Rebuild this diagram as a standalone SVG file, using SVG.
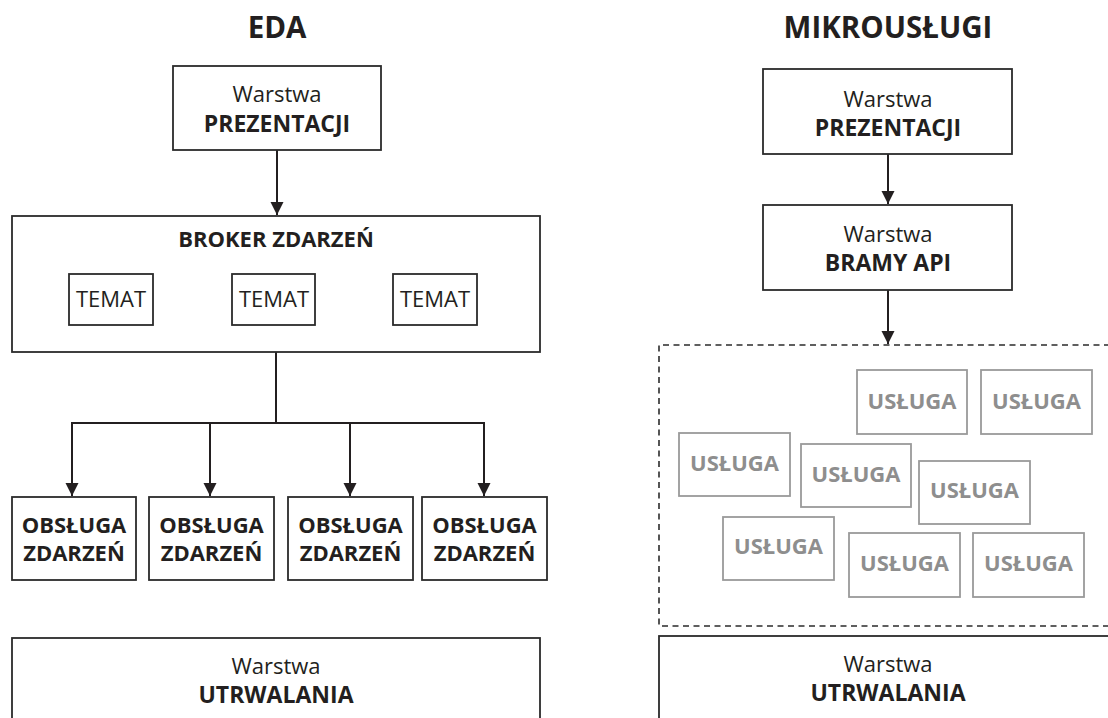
<svg xmlns="http://www.w3.org/2000/svg" width="1108" height="718" viewBox="0 0 1108 718">
<style>
  text { font-family: "Open Sans", "Noto Sans", "Liberation Sans", sans-serif; fill: #231f20; text-anchor: middle; }
  .title { font-size: 29.5px; font-weight: bold; }
  .reg { font-size: 22px; }
  .bold { font-size: 22px; font-weight: bold; }
  .bold24 { font-size: 23px; font-weight: bold; }
  .box { fill: #fff; stroke: #2b2b2b; stroke-width: 1.8; }
  .svc rect { fill: #fff; stroke: #9a9a9a; stroke-width: 1.8; }
  .svc text { fill: #8e8e8e; font-size: 22px; font-weight: bold; }
  .conn { fill: none; stroke: #231f20; stroke-width: 2; }
  .dash { fill: none; stroke: #2b2b2b; stroke-width: 1.6; stroke-dasharray: 6 4.5; }
</style>
<defs>
  <marker id="arr" markerUnits="userSpaceOnUse" markerWidth="14" markerHeight="14" refX="13" refY="6.5" orient="auto">
    <path d="M0,0 L13,6.5 L0,13 z" fill="#231f20"/>
  </marker>
</defs>
<rect width="1108" height="718" fill="#fff"/>

<text class="title" x="277" y="38">EDA</text>
<text class="title" x="888" y="38">MIKROUSŁUGI</text>

<g id="connectors">
  <path class="conn" d="M277,150 V215" marker-end="url(#arr)"/>
  <path class="conn" d="M276,352 V423"/>
  <path class="conn" d="M72,423 H484"/>
  <path class="conn" d="M72,422 V496" marker-end="url(#arr)"/>
  <path class="conn" d="M210,423 V496" marker-end="url(#arr)"/>
  <path class="conn" d="M350,423 V496" marker-end="url(#arr)"/>
  <path class="conn" d="M484,422 V496" marker-end="url(#arr)"/>
  <path class="conn" d="M888,154 V204" marker-end="url(#arr)"/>
  <path class="conn" d="M888,290 V344" marker-end="url(#arr)"/>
</g>

<g id="eda-prezentacja">
  <rect class="box" x="173" y="66" width="208" height="84"/>
  <text class="reg" x="277" y="102">Warstwa</text>
  <text class="bold24" x="277" y="132">PREZENTACJI</text>
</g>

<g id="broker">
  <rect class="box" x="12" y="216" width="528" height="136"/>
  <text class="bold" x="276" y="247">BROKER ZDARZEŃ</text>
</g>
<g id="temat1">
  <rect class="box" x="69" y="274" width="84" height="51"/>
  <text class="reg" x="111" y="307">TEMAT</text>
</g>
<g id="temat2">
  <rect class="box" x="232" y="274" width="83" height="51"/>
  <text class="reg" x="274" y="307">TEMAT</text>
</g>
<g id="temat3">
  <rect class="box" x="393" y="274" width="84" height="51"/>
  <text class="reg" x="435" y="307">TEMAT</text>
</g>

<g id="obsluga1">
  <rect class="box" x="12" y="497" width="124" height="83"/>
  <text class="bold" x="74" y="533">OBSŁUGA</text>
  <text class="bold" x="74" y="561">ZDARZEŃ</text>
</g>
<g id="obsluga2">
  <rect class="box" x="149" y="497" width="125" height="83"/>
  <text class="bold" x="211.5" y="533">OBSŁUGA</text>
  <text class="bold" x="211.5" y="561">ZDARZEŃ</text>
</g>
<g id="obsluga3">
  <rect class="box" x="288" y="497" width="125" height="83"/>
  <text class="bold" x="350.5" y="533">OBSŁUGA</text>
  <text class="bold" x="350.5" y="561">ZDARZEŃ</text>
</g>
<g id="obsluga4">
  <rect class="box" x="422" y="497" width="125" height="83"/>
  <text class="bold" x="484.5" y="533">OBSŁUGA</text>
  <text class="bold" x="484.5" y="561">ZDARZEŃ</text>
</g>

<g id="eda-utrwalanie">
  <rect class="box" x="12" y="638" width="528" height="100"/>
  <text class="reg" x="276" y="674">Warstwa</text>
  <text class="bold24" x="276" y="703">UTRWALANIA</text>
</g>

<g id="ms-prezentacja">
  <rect class="box" x="763" y="69" width="249" height="85"/>
  <text class="reg" x="888" y="107">Warstwa</text>
  <text class="bold24" x="888" y="136">PREZENTACJI</text>
</g>
<g id="ms-brama">
  <rect class="box" x="763" y="205" width="249" height="85"/>
  <text class="reg" x="888" y="242">Warstwa</text>
  <text class="bold24" x="888" y="271">BRAMY API</text>
</g>

<g id="uslugi-obszar">
  <path class="dash" d="M1110,345 H659 V626 H1110"/>
</g>
<g id="usluga1" class="svc"><rect x="857" y="370" width="110" height="64"/><text x="912" y="409">USŁUGA</text></g>
<g id="usluga2" class="svc"><rect x="981" y="370" width="111" height="64"/><text x="1036.5" y="409">USŁUGA</text></g>
<g id="usluga3" class="svc"><rect x="679" y="433" width="111" height="63"/><text x="734.5" y="471">USŁUGA</text></g>
<g id="usluga4" class="svc"><rect x="801" y="444" width="110" height="63"/><text x="856" y="482">USŁUGA</text></g>
<g id="usluga5" class="svc"><rect x="919" y="461" width="111" height="63"/><text x="974.5" y="498">USŁUGA</text></g>
<g id="usluga6" class="svc"><rect x="723" y="517" width="111" height="63"/><text x="778.5" y="554">USŁUGA</text></g>
<g id="usluga7" class="svc"><rect x="849" y="533" width="111" height="64"/><text x="904.5" y="571">USŁUGA</text></g>
<g id="usluga8" class="svc"><rect x="973" y="533" width="111" height="64"/><text x="1028.5" y="571">USŁUGA</text></g>

<g id="ms-utrwalanie">
  <rect class="box" x="659" y="636" width="460" height="100"/>
  <text class="reg" x="888" y="672">Warstwa</text>
  <text class="bold24" x="888" y="701">UTRWALANIA</text>
</g>
</svg>
